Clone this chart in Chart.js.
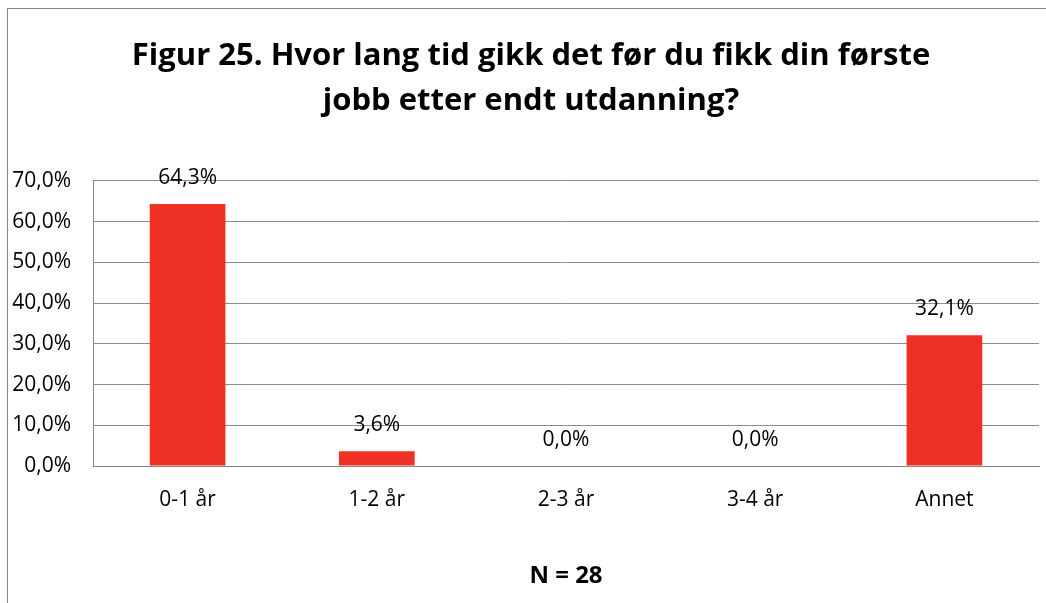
<!DOCTYPE html>
<html>
<head>
<meta charset="utf-8">
<script src="https://cdn.jsdelivr.net/npm/chart.js@4"></script>
<style>
  body { margin: 0; background: #fff; }
  #wrap { position: relative; width: 1046px; height: 603px; overflow: hidden; }
  #frame { position: absolute; left: 7px; top: 8px; width: 1100px; height: 700px;
           border-left: 1px solid #888; border-top: 1px solid #888; }
  canvas { position: absolute; left: 0; top: 0; }
</style>
</head>
<body>
<div id="wrap">
  <div id="frame"></div>
  <canvas id="chart" width="1046" height="603"></canvas>
</div>
<script>
const categories = ['0-1 år', '1-2 år', '2-3 år', '3-4 år', 'Annet'];
const shares = [64.3, 3.6, 0.0, 0.0, 32.1];
const titleLines = ['Figur 25. Hvor lang tid gikk det før du fikk din første', 'jobb etter endt utdanning?'];
const footnote = 'N = 28';

const fmt = v => v.toFixed(1).replace('.', ',') + '%';
const fontFamily = "'Open Sans', 'Liberation Sans', sans-serif";

// value labels above each bar
const barLabels = {
    id: 'barLabels',
    afterDatasetsDraw(chart) {
        const ctx = chart.ctx;
        const meta = chart.getDatasetMeta(0);
        ctx.save();
        ctx.font = '21px ' + fontFamily;
        ctx.fillStyle = '#000';
        ctx.textAlign = 'center';
        ctx.textBaseline = 'middle';
        meta.data.forEach((bar, i) => {
            ctx.fillText(fmt(shares[i]), bar.x, bar.y - 26);
        });
        ctx.restore();
    }
};

// the title sits a little right of the canvas centre in the original
const titleShift = {
    id: 'titleShift',
    afterLayout(chart) {
        if (chart.titleBlock) chart.titleBlock.left += 23;
    }
};

const ctx = document.getElementById('chart').getContext('2d');
new Chart(ctx, {
    type: 'bar',
    data: {
        labels: categories,
        datasets: [{
            data: shares,
            backgroundColor: '#ee3124',
            barPercentage: 0.8,
            categoryPercentage: 0.5
        }]
    },
    options: {
        responsive: false,
        animation: false,
        layout: { padding: { left: 0, right: 7, top: 0, bottom: 0 } },
        plugins: {
            legend: { display: false },
            tooltip: { enabled: false },
            title: {
                display: true,
                text: titleLines,
                color: '#000',
                font: { family: fontFamily, size: 31, weight: 'bold', lineHeight: 1.45 },
                padding: { top: 34, bottom: 57 }
            }
        },
        scales: {
            x: {
                grid: { display: false, drawTicks: false },
                border: { color: '#868686', width: 1 },
                ticks: { color: '#000', padding: 21, font: { family: fontFamily, size: 21 } },
                title: {
                    display: true,
                    text: footnote,
                    color: '#000',
                    font: { family: fontFamily, size: 24, weight: 'bold', lineHeight: 1.2 },
                    padding: { top: 0, bottom: 12 }
                },
                afterFit(scale) { scale.height = 137; }
            },
            y: {
                min: 0,
                max: 70,
                grid: { color: '#8c8c8c', drawTicks: false },
                border: { color: '#868686', width: 1 },
                ticks: {
                    stepSize: 10,
                    color: '#000',
                    padding: 22,
                    font: { family: fontFamily, size: 21 },
                    callback: v => fmt(v)
                },
                afterFit(scale) { scale.width = 93; }
            }
        }
    },
    plugins: [barLabels, titleShift]
});
</script>
</body>
</html>
